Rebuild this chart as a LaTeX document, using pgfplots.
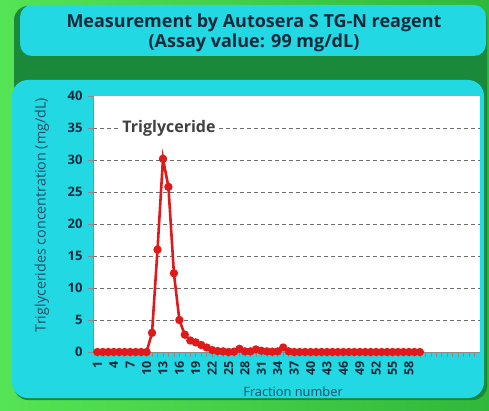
\documentclass[border=0pt]{standalone}
\usepackage{fontspec}
\setmainfont{Open Sans}
\usepackage{pgfplots}
\pgfplotsset{compat=1.18}
\definecolor{bggreen}{HTML}{2FB83A}
\definecolor{bglight}{HTML}{55E455}
\definecolor{panel}{HTML}{22D8E2}
\definecolor{navy}{HTML}{14283C}
\definecolor{tealtxt}{HTML}{1B4E66}
\definecolor{dred}{HTML}{E01A1A}
\definecolor{band}{HTML}{1A8A3A}
\definecolor{gridgray}{HTML}{6E6E6E}

\pgfplotstableread{
frac val
1 0
2 0
3 0
4 0
5 0
6 0
7 0
8 0
9 0
10 0
11 3.0
12 16.0
13 30.2
14 25.8
15 12.3
16 5.0
17 2.7
18 1.8
19 1.5
20 1.1
21 0.7
22 0.3
23 0.15
24 0.1
25 0
26 0.05
27 0.5
28 0.1
29 0.1
30 0.4
31 0.2
32 0.1
33 0.05
34 0.1
35 0.7
36 0.1
37 0
38 0
39 0
40 0
41 0
42 0
43 0
44 0
45 0
46 0
47 0
48 0
49 0
50 0
51 0
52 0
53 0
54 0
55 0
56 0
57 0
58 0
59 0
60 0
}\tgdata

\begin{document}
\begin{tikzpicture}[x=1pt,y=1pt]
\useasboundingbox (0,0) rectangle (489,410);
\shade[left color=bglight, right color=bggreen] (0,0) rectangle (489,410);
\fill[band, rounded corners=14] (14,10) rectangle (487,404);
\fill[panel, rounded corners=16] (12,12) rectangle (484,330);
\fill[panel, rounded corners=12] (20,354) rectangle (486,405);
\node[font=\bfseries\fontsize{18}{20.5}\selectfont, text=navy, align=center] at (254,377) {Measurement by Autosera S TG-N reagent\\(Assay value: 99 mg/dL)};
\begin{axis}[
  at={(93pt,58pt)}, anchor=south west,
  scale only axis, width=387pt, height=256pt,
  xmin=0.2, xmax=71, ymin=0, ymax=40,
  axis background/.style={fill=white},
  axis lines=left,
  axis line style={gridgray!80, -, line width=0.6pt},
  tick style={gridgray!80, line width=0.6pt},
  tick align=outside,
  major tick length=5pt, minor tick length=5pt,
  ytick={0,5,...,35},
  ymajorgrids=true,
  extra y ticks={40},
  extra y tick style={grid=none},
  xtick={1,4,...,58},
  minor xtick={1,...,70},
  major grid style={gridgray, dash pattern=on 3.5pt off 3.5pt, line width=0.8pt},
  /pgf/number format/assume math mode=true,
  yticklabel style={font=\bfseries\fontsize{13}{13}\selectfont, text=navy, xshift=-2pt},
  xticklabel style={font=\bfseries\fontsize{12.5}{12.5}\selectfont, text=navy, rotate=90, anchor=east, xshift=-1pt},
  xlabel={Fraction number},
  ylabel={Triglycerides concentration (mg/dL)},
  xlabel style={at={(axis description cs:0.517,-0.156)}, anchor=center, font=\fontsize{12.8}{12.8}\selectfont, text=tealtxt},
  ylabel style={at={(axis description cs:-0.132,0.535)}, anchor=center, rotate=0, font=\fontsize{14.3}{14.3}\selectfont, text=tealtxt},
  clip=false,
]
\addplot[dred, line width=2.6pt, mark=*, mark size=2.8pt, mark options={solid, fill=dred}] table[x=frac, y=val] {\tgdata};
\node[fill=white, inner sep=1.5pt, font=\bfseries\fontsize{16}{16}\selectfont, text=black!75] at (axis cs:14.1,35) {Triglyceride};
\end{axis}
\end{tikzpicture}
\end{document}
